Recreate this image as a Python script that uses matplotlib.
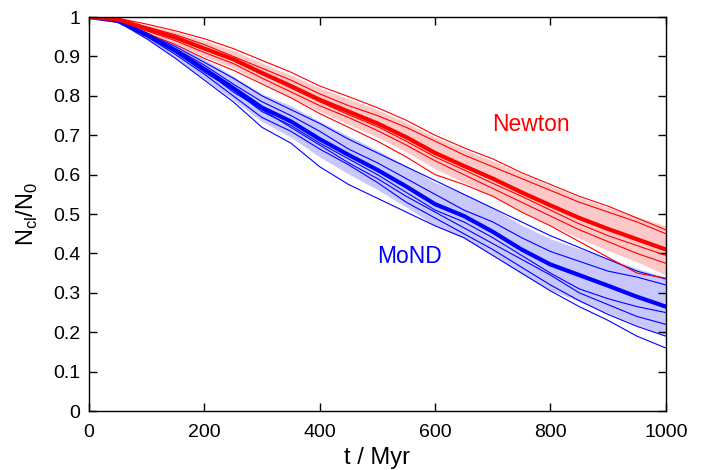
import numpy as np
import matplotlib
matplotlib.use("Agg")
import matplotlib.pyplot as plt
from matplotlib.ticker import FormatStrFormatter

# time grid (Myr)
t = [0, 50, 100, 150, 200, 250, 300, 350, 400, 450, 500,
     550, 600, 650, 700, 750, 800, 850, 900, 950, 1000]

# Newton: mean, band and single runs
newton_mean = [1.0, 0.994, 0.97, 0.948, 0.92, 0.893, 0.858, 0.825, 0.79, 0.76, 0.73,
               0.695, 0.655, 0.622, 0.59, 0.555, 0.522, 0.49, 0.462, 0.436, 0.41]
newton_hi = [1.0, 0.997, 0.98, 0.963, 0.94, 0.915, 0.883, 0.853, 0.82, 0.792, 0.765,
             0.732, 0.695, 0.664, 0.635, 0.602, 0.572, 0.542, 0.517, 0.493, 0.47]
newton_lo = [1.0, 0.991, 0.96, 0.933, 0.9, 0.871, 0.833, 0.797, 0.76, 0.728, 0.695,
             0.658, 0.615, 0.58, 0.545, 0.508, 0.472, 0.438, 0.407, 0.379, 0.345]
newton_runs = [
    [1.0, 0.997, 0.982, 0.965, 0.945, 0.92, 0.89, 0.86, 0.825, 0.798, 0.77,
     0.738, 0.7, 0.668, 0.64, 0.605, 0.575, 0.545, 0.52, 0.49, 0.46],
    [1.0, 0.996, 0.975, 0.955, 0.93, 0.9, 0.87, 0.84, 0.805, 0.775, 0.75,
     0.72, 0.685, 0.65, 0.62, 0.59, 0.56, 0.53, 0.505, 0.48, 0.45],
    [1.0, 0.994, 0.968, 0.945, 0.918, 0.89, 0.855, 0.82, 0.785, 0.752, 0.722,
     0.685, 0.645, 0.612, 0.578, 0.545, 0.51, 0.475, 0.445, 0.42, 0.395],
    [1.0, 0.993, 0.965, 0.94, 0.91, 0.882, 0.845, 0.81, 0.775, 0.745, 0.712,
     0.675, 0.635, 0.6, 0.565, 0.53, 0.495, 0.46, 0.43, 0.4, 0.375],
    [1.0, 0.99, 0.958, 0.93, 0.895, 0.865, 0.83, 0.795, 0.755, 0.72, 0.685,
     0.645, 0.6, 0.575, 0.545, 0.505, 0.47, 0.43, 0.39, 0.35, 0.337],
]

# MoND: mean, band and single runs
mond_mean = [1.0, 0.99, 0.955, 0.915, 0.868, 0.82, 0.77, 0.735, 0.69, 0.65, 0.612,
             0.57, 0.525, 0.495, 0.455, 0.41, 0.372, 0.345, 0.318, 0.29, 0.265]
mond_hi = [1.0, 0.994, 0.967, 0.933, 0.893, 0.85, 0.805, 0.775, 0.735, 0.698, 0.662,
           0.622, 0.58, 0.552, 0.515, 0.472, 0.437, 0.412, 0.388, 0.362, 0.34]
mond_lo = [1.0, 0.986, 0.943, 0.897, 0.843, 0.79, 0.735, 0.695, 0.645, 0.602, 0.562,
           0.518, 0.47, 0.438, 0.395, 0.348, 0.307, 0.278, 0.248, 0.218, 0.19]
mond_runs = [
    [1.0, 0.992, 0.96, 0.925, 0.885, 0.845, 0.8, 0.765, 0.73, 0.69, 0.655,
     0.62, 0.585, 0.55, 0.515, 0.48, 0.445, 0.415, 0.385, 0.355, 0.335],
    [1.0, 0.99, 0.958, 0.92, 0.878, 0.83, 0.785, 0.75, 0.71, 0.665, 0.63,
     0.59, 0.55, 0.51, 0.48, 0.44, 0.405, 0.38, 0.355, 0.34, 0.32],
    [1.0, 0.99, 0.952, 0.91, 0.86, 0.815, 0.76, 0.725, 0.68, 0.64, 0.6,
     0.555, 0.51, 0.48, 0.44, 0.395, 0.35, 0.31, 0.285, 0.265, 0.25],
    [1.0, 0.99, 0.955, 0.915, 0.865, 0.81, 0.765, 0.72, 0.675, 0.63, 0.59,
     0.545, 0.505, 0.465, 0.425, 0.385, 0.345, 0.3, 0.27, 0.24, 0.22],
    [1.0, 0.988, 0.95, 0.905, 0.855, 0.8, 0.745, 0.71, 0.665, 0.625, 0.58,
     0.53, 0.49, 0.45, 0.41, 0.365, 0.32, 0.28, 0.245, 0.215, 0.19],
    [1.0, 0.988, 0.945, 0.895, 0.84, 0.785, 0.72, 0.68, 0.62, 0.575, 0.54,
     0.505, 0.47, 0.44, 0.395, 0.35, 0.305, 0.265, 0.23, 0.19, 0.16],
]

plt.rcParams['font.family'] = ['Liberation Sans', 'DejaVu Sans']
plt.rcParams['mathtext.fontset'] = 'custom'
plt.rcParams['mathtext.rm'] = 'Liberation Sans'

fig = plt.figure(figsize=(7.06, 4.70), dpi=100)
ax = fig.add_axes([0.126, 0.1255, 0.817, 0.8383])

red = "#ff0000"
blue = "#0000ff"

ax.fill_between(t, mond_lo, mond_hi, color="#c8c8ff", lw=0)
ax.fill_between(t, newton_lo, newton_hi, color="#ffc8c8", lw=0)

for run in mond_runs:
    ax.plot(t, run, color=blue, lw=0.8)
for run in newton_runs:
    ax.plot(t, run, color=red, lw=0.8)

ax.plot(t, mond_mean, color=blue, lw=3)
ax.plot(t, newton_mean, color=red, lw=3)

ax.text(767, 0.728, "Newton", color=red, fontsize=16.5, ha="center", va="center")
ax.text(555, 0.393, "MoND", color=blue, fontsize=16.5, ha="center", va="center")

ax.set_xlim(0, 1000)
ax.set_ylim(0, 1)
ax.set_xticks(range(0, 1001, 200))
ax.set_yticks(np.arange(0, 1.01, 0.1))
ax.yaxis.set_major_formatter(FormatStrFormatter('%g'))
ax.tick_params(direction='in', length=6, width=1, top=True, right=True,
               labelsize=14, pad=6)
ax.tick_params(axis='x', pad=9)
for s in ax.spines.values():
    s.set_linewidth(1)

ax.set_xlabel("t / Myr", fontsize=17)
ax.set_ylabel(r"N$_{\mathrm{cl}}$/N$_0$", fontsize=17)
ax.xaxis.set_label_coords(0.5, -0.119)
ax.xaxis.label.set_va('center')
ax.yaxis.set_label_coords(-0.106, 0.5)
ax.yaxis.label.set_va('center')

fig.savefig("out.png", dpi=100)
